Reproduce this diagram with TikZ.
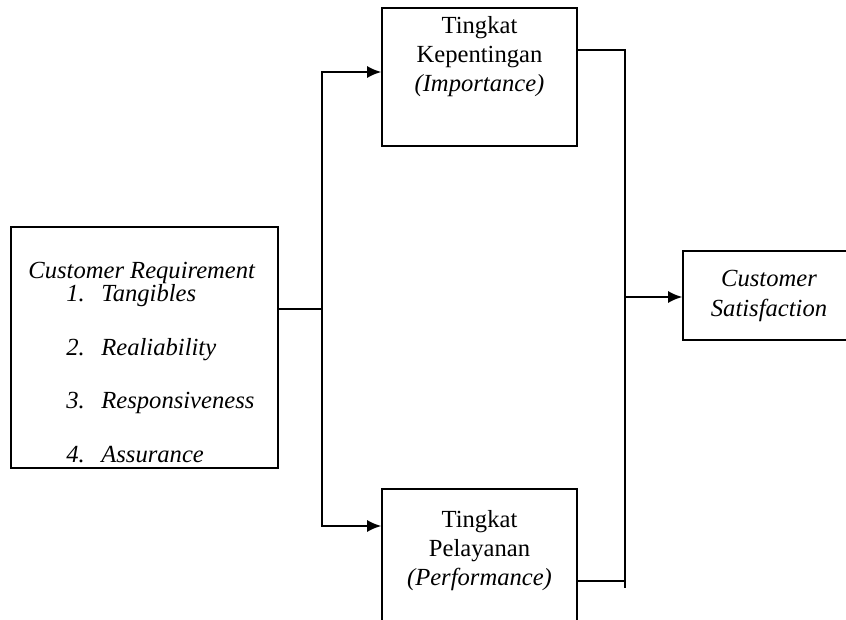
\documentclass[tikz,border=0pt]{standalone}
\usepackage{fontspec}
\setmainfont{Liberation Serif}
\usetikzlibrary{arrows.meta, positioning, calc}

\begin{document}
\begin{tikzpicture}[
    x=0.5pt, y=-0.5pt,
    every node/.style={font=\fontsize{12.3}{14.5}\selectfont},
    box/.style={rectangle, draw, line width=0.8pt, inner sep=0pt},
    boxtext/.style={align=center, inner sep=0pt},
    listtext/.style={align=left, inner sep=0pt, font=\fontsize{12.3}{11.6}\selectfont\itshape,
        execute at begin node={\lineskiplimit=-20pt\relax}},
    arrow/.style={-{Latex[length=7pt, width=6pt]}, line width=0.9pt},
    link/.style={line width=0.9pt}
]
\useasboundingbox (0,0) rectangle (846,620);
\clip (0,0) rectangle (846,620);

% Nodes
\node[box, minimum width=133.5pt, minimum height=120.5pt] (req) at (144.5,347.5) {};
\node[listtext, anchor=north west] (reqtext) at (28,262) {Customer Requirement\\
    \hspace*{19pt}\makebox[17.5pt][l]{1.}Tangibles\\[15.1pt]
    \hspace*{19pt}\makebox[17.5pt][l]{2.}Realiability\\[15.1pt]
    \hspace*{19pt}\makebox[17.5pt][l]{3.}Responsiveness\\[15.1pt]
    \hspace*{19pt}\makebox[17.5pt][l]{4.}Assurance};

\node[box, minimum width=97.5pt, minimum height=69pt] (imp) at (479.5,77) {};
\node[boxtext, below=4.6pt of imp.north] (imptext) {Tingkat\\Kepentingan\\\textit{(Importance)}};

\node[box, minimum width=97.5pt, minimum height=69pt] (perf) at (479.5,558) {};
\node[boxtext, below=11pt of perf.north] (perftext) {Tingkat\\Pelayanan\\\textit{(Performance)}};

\node[box, boxtext, minimum width=86pt, minimum height=44.5pt, font=\fontsize{12.3}{15}\selectfont\itshape] (sat) at (769,295.5) {Customer\\Satisfaction};

\coordinate (split) at (322,309);
\coordinate (merge) at (625,297);
\coordinate (mergeend) at (625,588);

% Arrows
\draw[link] (req.east |- split) -- (split);
\draw[arrow] (split) |- ([yshift=2.5pt]imp.west);
\draw[arrow] (split) |- ([yshift=16pt]perf.west);

\draw[link] ([yshift=13.5pt]imp.east) -| (mergeend);
\draw[link] ([yshift=-11.5pt]perf.east) -- ++(48,0);
\draw[arrow] (merge) -- (sat.west |- merge);

\end{tikzpicture}
\end{document}
